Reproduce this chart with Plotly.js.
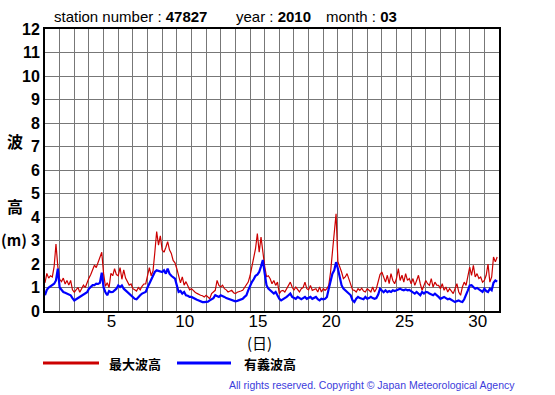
<!DOCTYPE html>
<html>
<head>
<meta charset="utf-8">
<script src="https://cdn.plot.ly/plotly-3.0.1.min.js"></script>
<style>html,body{margin:0;padding:0;background:#fff;}#chart{width:555px;height:395px;}</style>
</head>
<body>
<div id="chart"></div>
<script>
// 3-hourly values, March 2010 (8 per day, day 1 .. day 31)
const maxWave = [
  1.2,1.6,1.4,1.5,1.45,1.9,2.85,1.9,
  1.35,1.25,1.4,1.15,1.3,1.1,1.3,0.9,
  0.8,0.9,1.0,0.8,0.95,1.1,1.0,1.25,
  1.4,1.55,1.75,1.95,1.85,2.1,2.25,2.5,
  1.6,1.05,1.2,1.0,1.6,1.5,1.8,1.55,
  1.5,1.85,1.35,1.75,1.4,1.25,1.1,1.15,
  0.95,0.9,0.85,1.0,0.9,1.05,1.15,1.15,
  1.45,1.85,1.5,1.7,2.5,3.38,2.8,3.2,
  2.6,2.5,2.7,2.95,2.6,2.45,2.15,2.05,
  1.8,1.45,1.2,1.45,1.1,1.25,1.05,0.9,
  0.95,0.85,0.8,0.75,0.7,0.67,0.65,0.6,
  0.67,0.6,0.52,0.74,0.8,0.88,1.3,1.09,
  1.02,1.1,0.95,0.9,0.81,0.85,0.88,0.78,
  0.74,0.8,0.81,0.85,0.88,1.0,1.09,1.23,
  1.5,1.94,2.2,2.65,3.3,2.5,3.15,2.44,
  1.9,1.46,1.5,1.37,1.16,1.3,1.09,1.23,
  0.74,0.85,0.88,0.81,0.95,1.09,1.23,1.02,
  0.88,1.02,0.9,0.81,0.95,1.0,1.23,0.95,
  0.9,1.09,0.88,0.9,0.95,0.81,1.02,0.81,
  0.95,0.88,0.95,1.09,1.66,2.5,3.3,4.14,
  2.1,1.9,1.66,1.38,1.45,1.59,1.38,1.16,
  0.9,0.88,0.81,0.95,0.88,0.97,0.85,0.81,
  0.95,0.88,0.81,1.02,0.81,0.95,1.2,1.55,
  1.66,1.45,1.23,1.52,1.16,1.59,1.3,1.16,
  1.38,1.8,1.3,1.52,1.23,1.59,1.3,1.38,
  1.16,1.38,1.09,1.3,1.52,1.16,0.88,1.09,
  1.3,1.16,1.09,1.38,1.02,1.23,1.1,1.09,
  0.95,1.16,0.88,1.02,0.81,0.95,0.85,0.74,
  0.95,1.16,0.81,0.67,1.02,1.23,1.09,1.52,
  1.87,1.52,1.94,1.45,1.59,1.38,1.45,1.23,
  1.3,1.52,2.0,1.23,1.45,2.3,2.09,2.3
];
const sigWave = [
  0.67,0.9,1.0,1.05,1.1,1.16,1.3,1.8,
  1.0,0.88,0.81,0.78,0.74,0.7,0.67,0.55,
  0.45,0.5,0.55,0.6,0.65,0.67,0.74,0.8,
  0.95,1.05,1.1,1.1,1.16,1.15,1.2,1.63,
  1.0,0.8,0.67,0.85,0.8,0.81,0.9,0.95,
  1.09,1.02,1.09,0.95,0.88,0.81,0.74,0.67,
  0.6,0.52,0.5,0.6,0.67,0.74,0.78,0.81,
  1.0,1.15,1.3,1.45,1.66,1.73,1.7,1.66,
  1.66,1.73,1.59,1.8,1.59,1.5,1.45,1.38,
  1.09,0.81,0.85,0.74,0.81,0.67,0.65,0.6,
  0.6,0.55,0.52,0.48,0.45,0.4,0.38,0.38,
  0.38,0.4,0.45,0.5,0.55,0.67,0.62,0.6,
  0.67,0.65,0.6,0.55,0.52,0.5,0.48,0.45,
  0.41,0.43,0.45,0.5,0.52,0.6,0.67,0.88,
  1.1,1.23,1.35,1.5,1.55,1.66,1.9,2.17,
  1.6,1.1,0.95,0.88,0.8,0.74,0.81,0.67,
  0.52,0.45,0.5,0.52,0.6,0.67,0.74,0.6,
  0.55,0.52,0.6,0.55,0.5,0.55,0.6,0.52,
  0.55,0.6,0.52,0.55,0.6,0.5,0.45,0.52,
  0.5,0.52,0.6,0.95,1.3,1.59,1.73,2.08,
  1.8,1.37,1.1,0.95,0.88,0.81,0.74,0.67,
  0.45,0.38,0.52,0.6,0.55,0.52,0.5,0.6,
  0.52,0.55,0.6,0.55,0.52,0.55,0.7,0.95,
  0.85,0.8,0.88,0.8,0.85,0.81,0.88,0.85,
  0.88,0.9,0.95,0.9,0.88,0.92,0.88,0.9,
  0.85,0.81,0.74,0.81,0.75,0.67,0.81,0.74,
  0.81,0.8,0.74,0.7,0.67,0.74,0.65,0.6,
  0.52,0.55,0.6,0.55,0.5,0.52,0.48,0.45,
  0.38,0.42,0.45,0.4,0.38,0.5,0.67,0.88,
  1.09,1.1,1.02,0.95,0.98,0.92,0.88,0.81,
  0.95,0.85,0.81,0.95,0.88,1.2,1.3,1.25
];
const stepsPerDay = 8;
const dayGrid = Array.from({length: 32}, (_, i) => i + 1);
const dayLabels = ['5', '10', '15', '20', '25', '30'];
const yTicks = [0,1,2,3,4,5,6,7,8,9,10,11,12];
const seriesNames = ['最大波高', '有義波高'];

const times = maxWave.map((_, i) => 1 + i / stepsPerDay);
const tickText = dayGrid.map(d => dayLabels.includes(String(d)) ? String(d) : '');

const W = 555, H = 395, L = 45, R = 499, T = 29, B = 311;
const px = x => (x - L) / (R - L);
const py = y => (B - y) / (B - T);

const traces = [
  {x: times, y: maxWave, type: 'scatter', mode: 'lines', name: seriesNames[0],
   line: {color: '#cc0000', width: 1.2}, hoverinfo: 'skip'},
  {x: times, y: sigWave, type: 'scatter', mode: 'lines', name: seriesNames[1],
   line: {color: '#0000ff', width: 2.2}, hoverinfo: 'skip'}
];

const sans = 'Liberation Sans, Arial, sans-serif';
const cjk = 'Noto Sans CJK JP, sans-serif';
const ann = (text, x, y, opts) => Object.assign({
  text, xref: 'paper', yref: 'paper', x: px(x), y: py(y), showarrow: false,
  xanchor: 'left', yanchor: 'middle', font: {family: sans, size: 15, color: '#000'}
}, opts || {});

const layout = {
  width: W, height: H,
  margin: {l: L, r: W - R, t: T, b: H - B, pad: 0},
  paper_bgcolor: '#fff', plot_bgcolor: '#fff',
  showlegend: false,
  xaxis: {
    range: [1, 32], tickmode: 'array', tickvals: dayGrid, ticktext: tickText,
    ticklabelshift: 8, ticklabelstandoff: -6, ticks: '', showgrid: true, gridcolor: '#777', gridwidth: 1,
    showline: true, linecolor: '#000', linewidth: 2, mirror: true, zeroline: false,
    tickfont: {family: sans, size: 17, color: '#000'}
  },
  yaxis: {
    range: [0, 12], tickmode: 'array', tickvals: yTicks, ticks: '',
    showgrid: true, gridcolor: '#777', gridwidth: 1,
    showline: true, linecolor: '#000', linewidth: 2, mirror: true, zeroline: false,
    tickfont: {family: sans, size: 16, color: '#000', weight: 'bold'}
  },
  shapes: [
    {type: 'line', xref: 'paper', yref: 'paper', x0: px(43), x1: px(99), y0: py(363), y1: py(363), line: {color: '#cc0000', width: 3}},
    {type: 'line', xref: 'paper', yref: 'paper', x0: px(177), x1: px(231), y0: py(363), y1: py(363), line: {color: '#0000ff', width: 3}}
  ],
  annotations: [
    ann('station number : <b>47827</b>', 52, 17),
    ann('year : <b>2010</b>', 234, 17),
    ann('month : <b>03</b>', 324, 17),
    ann('波', 15, 141, {xanchor: 'center', font: {family: cjk, size: 16, color: '#000', weight: 'bold'}}),
    ann('高', 15, 206, {xanchor: 'center', font: {family: cjk, size: 16, color: '#000', weight: 'bold'}}),
    ann('(m)', 14, 239, {xanchor: 'center', font: {family: cjk, size: 15, color: '#000', weight: 'bold'}}),
    ann('(日)', 259, 342, {xanchor: 'center', font: {family: cjk, size: 15, color: '#000'}}),
    ann(seriesNames[0], 107, 363, {font: {family: cjk, size: 13, color: '#000', weight: 'bold'}}),
    ann(seriesNames[1], 242, 363, {font: {family: cjk, size: 13, color: '#000', weight: 'bold'}}),
    ann('All rights reserved. Copyright © Japan Meteorological Agency', 517, 385,
        {xanchor: 'right', font: {family: sans, size: 10.5, color: '#3c3cdc'}})
  ]
};

Plotly.newPlot('chart', traces, layout, {staticPlot: true, displayModeBar: false});
</script>
</body>
</html>
